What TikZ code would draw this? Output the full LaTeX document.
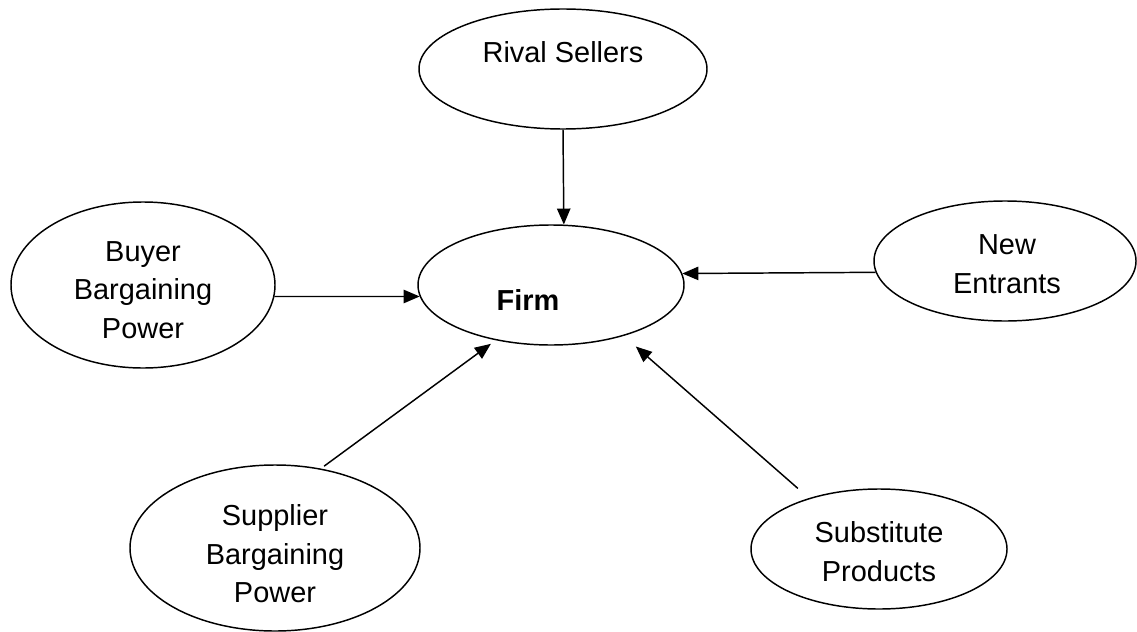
\documentclass[tikz,border=0pt]{standalone}
\usepackage{fontspec}
\setmainfont{Liberation Sans}
\usetikzlibrary{shapes.geometric,arrows.meta}
\begin{document}
\begin{tikzpicture}[x=0.75pt,y=-0.75pt,
  force/.style={ellipse, draw, line width=1.1pt, inner sep=0pt},
  lbl/.style={align=center, inner sep=0pt, font=\fontsize{21.7}{28.9}\selectfont},
  arr/.style={-{Triangle[length=12pt,width=10pt]}, line width=1.1pt}]
\useasboundingbox (0,0) rectangle (1137,631);
\node[force, minimum width=216pt, minimum height=90pt] (rival) at (563,69) {};
\node[force, minimum width=199.5pt, minimum height=90pt] (firm) at (551,285) {};
\node[force, minimum width=198pt, minimum height=124.5pt] (buyer) at (143,285) {};
\node[force, minimum width=196.5pt, minimum height=90pt] (newent) at (1005,261) {};
\node[force, minimum width=217.5pt, minimum height=124.5pt] (supplier) at (275,548) {};
\node[force, minimum width=192pt, minimum height=90pt] (subst) at (879,549) {};
\node[lbl] (rivalt) at (563,52) {Rival Sellers};
\node[lbl, font=\fontsize{21.7}{28.9}\selectfont\bfseries] (firmt) at (528,300) {Firm};
\node[lbl] (buyert) at (143,290) {Buyer\\Bargaining\\Power};
\node[lbl] (newentt) at (1007,264) {New\\Entrants};
\node[lbl] (suppliert) at (275,554) {Supplier\\Bargaining\\Power};
\node[lbl] (substt) at (879,551.5) {Substitute\\Products};
\draw[arr] (rival.south) -- (firm.78);
\draw[arr] (buyer.-5.6) -- (firm.185.6);
\draw[arr] (newent.185.2) -- (firm.5.2);
\draw[arr, shorten <=3pt, shorten >=4.5pt] (supplier.60) -- (firm.225);
\draw[arr, shorten <=11pt, shorten >=12pt] (subst.144.4) -- (firm.-35.5);
\end{tikzpicture}
\end{document}
